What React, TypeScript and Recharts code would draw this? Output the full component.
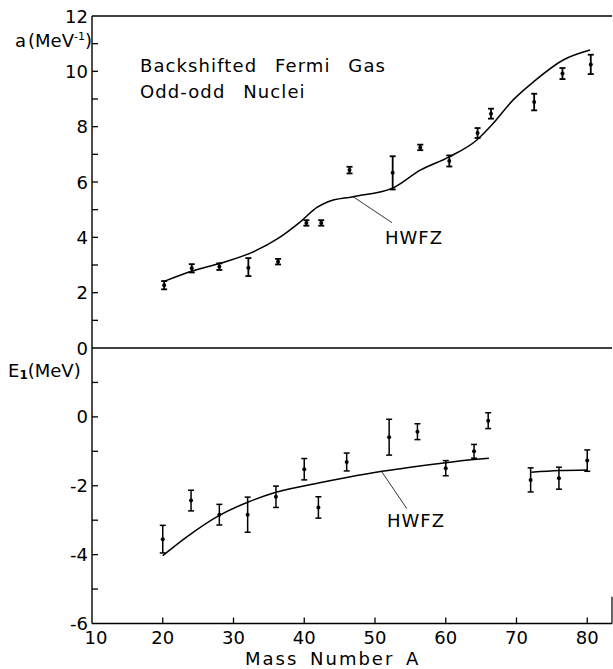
import React from 'react';
import { ComposedChart, Line, Scatter, ErrorBar, XAxis, YAxis, ReferenceLine } from 'recharts';

const FONT = '"DejaVu Sans", sans-serif';

// ---- Top panel: level density parameter a (MeV^-1)
const massTop = [20.2, 24.1, 28.0, 32.1, 36.3, 40.3, 42.4, 46.4, 52.5, 56.4, 60.5, 64.5, 66.4, 72.5, 76.5, 80.5];
const aValues = [2.27, 2.88, 2.94, 2.9, 3.12, 4.52, 4.52, 6.43, 6.33, 7.25, 6.76, 7.77, 8.47, 8.89, 9.92, 10.25];
const aErrLow = [0.15, 0.15, 0.12, 0.3, 0.1, 0.1, 0.1, 0.12, 0.6, 0.1, 0.2, 0.18, 0.18, 0.3, 0.2, 0.35];
const aErrHigh = [0.15, 0.15, 0.12, 0.35, 0.1, 0.1, 0.1, 0.12, 0.6, 0.1, 0.2, 0.18, 0.18, 0.3, 0.2, 0.35];

const curveTopMass = [20.1, 24.3, 28.1, 32.3, 36.3, 39.4, 41.8, 43.2, 46.9, 52.4, 56.4, 60.5, 64.4, 66.5, 69.5, 72.4, 76.6, 80.4];
const curveTopA = [2.4, 2.79, 3.06, 3.42, 3.96, 4.55, 5.08, 5.27, 5.47, 5.77, 6.43, 6.91, 7.52, 8.06, 8.96, 9.62, 10.41, 10.77];

// ---- Bottom panel: backshift E1 (MeV)
const massBottom = [20, 24, 28, 32, 36, 40, 42, 46, 52, 56, 60, 64, 66, 72, 76, 80];
const e1Values = [-3.55, -2.43, -2.84, -2.84, -2.32, -1.52, -2.63, -1.31, -0.59, -0.43, -1.49, -1.0, -0.11, -1.83, -1.78, -1.27];
const e1Err = [0.4, 0.3, 0.3, 0.51, 0.31, 0.31, 0.31, 0.26, 0.52, 0.23, 0.22, 0.2, 0.23, 0.35, 0.32, 0.31];

const curveBot1Mass = [20, 23.5, 28, 32, 36, 42, 46, 51, 55, 60, 64, 66.1];
const curveBot1E = [-4.03, -3.47, -2.86, -2.48, -2.19, -1.92, -1.76, -1.58, -1.46, -1.33, -1.24, -1.2];
const curveBot2Mass = [72.1, 76, 80];
const curveBot2E = [-1.61, -1.56, -1.54];

// ---- Axes
const xDomain = [10, 83.5];
const xTicks = [10, 20, 30, 40, 50, 60, 70, 80];
const aTicks = [0, 1, 2, 3, 4, 5, 6, 7, 8, 9, 10, 11, 12];
const aLabels = ['0', '', '2', '', '4', '', '6', '', '8', '', '10', '', '12'];
const eTicks = [-6, -5, -4, -3, -2, -1, 0, 1, 2];
const eLabels = ['-6', '', '-4', '', '-2', '', '0', '', ''];

const topPoints = massTop.map((A, i) => ({ A, v: aValues[i], err: [aErrLow[i], aErrHigh[i]] }));
const topCurve = curveTopMass.map((A, i) => ({ A, v: curveTopA[i] }));
const botPoints = massBottom.map((A, i) => ({ A, v: e1Values[i], err: [e1Err[i], e1Err[i]] }));
const botCurve1 = curveBot1Mass.map((A, i) => ({ A, v: curveBot1E[i] }));
const botCurve2 = curveBot2Mass.map((A, i) => ({ A, v: curveBot2E[i] }));

const makeYTick = (ticks: number[], labels: string[], skipLineAt: number[]) => (props: any) => {
  const { x, y, payload } = props;
  const idx = ticks.indexOf(payload.value);
  const label = idx >= 0 ? labels[idx] : '';
  const showLine = !skipLineAt.includes(payload.value);
  return (
    <g>
      {showLine && <line x1={x} x2={x + 6} y1={y} y2={y} stroke="#000" strokeWidth={1.3} />}
      {label && (
        <text x={x - 4} y={y + 6.5} textAnchor="end" fontFamily={FONT} fontSize={18} fill="#000">
          {label}
        </text>
      )}
    </g>
  );
};

const XTick = (props: any) => {
  const { x, y, payload } = props;
  return (
    <g>
      {payload.value !== 10 && <line x1={x} x2={x} y1={y} y2={y - 6} stroke="#000" strokeWidth={1.3} />}
      <text x={x + (payload.value === 10 ? 4 : 0)} y={y + 20.5} textAnchor="middle" fontFamily={FONT} fontSize={18} fill="#000">
        {payload.value}
      </text>
    </g>
  );
};

const Dot = (p: any) => <circle cx={p.cx} cy={p.cy} r={2} fill="#000" />;

export default function App() {
  return (
    <div style={{ position: 'absolute', left: 0, top: 0, width: 613, height: 669, background: '#fff', overflow: 'hidden' }}>
      <div style={{ position: 'absolute', left: 0, top: 0 }}>
        <ComposedChart width={613} height={362} margin={{ top: 16, right: 1, bottom: 14, left: 0 }}>
          <XAxis type="number" dataKey="A" domain={xDomain} hide allowDataOverflow />
          <YAxis
            type="number"
            dataKey="v"
            domain={[0, 12]}
            ticks={aTicks}
            interval={0}
            width={92}
            tickSize={0}
            tickMargin={0}
            axisLine={{ stroke: '#000', strokeWidth: 1.4 }}
            tickLine={false}
            tick={makeYTick(aTicks, aLabels, [0, 12])}
          />
          <ReferenceLine y={12} stroke="#000" strokeWidth={1.4} />
          <ReferenceLine y={0} stroke="#000" strokeWidth={1.4} />
          <ReferenceLine
            segment={[{ x: 46.9, y: 5.47 }, { x: 52.4, y: 4.53 }]}
            stroke="#000"
            strokeWidth={0.8}
          />
          <Line data={topCurve} dataKey="v" type="monotone" stroke="#000" strokeWidth={1.5} dot={false} isAnimationActive={false} />
          <Scatter data={topPoints} dataKey="v" shape={Dot} isAnimationActive={false}>
            <ErrorBar dataKey="err" direction="y" width={3} stroke="#000" strokeWidth={1.8} isAnimationActive={false} />
          </Scatter>
        </ComposedChart>
      </div>
      <div style={{ position: 'absolute', left: 0, top: 340 }}>
        <ComposedChart width={613} height={329} margin={{ top: 8, right: 1, bottom: 0, left: 0 }}>
          <XAxis
            type="number"
            dataKey="A"
            domain={xDomain}
            ticks={xTicks}
            interval={0}
            height={45.5}
            tickSize={0}
            tickMargin={0}
            allowDataOverflow
            axisLine={{ stroke: '#000', strokeWidth: 1.4 }}
            tickLine={false}
            tick={<XTick />}
          />
          <YAxis
            type="number"
            dataKey="v"
            domain={[-6, 2]}
            ticks={eTicks}
            interval={0}
            width={92}
            tickSize={0}
            tickMargin={0}
            axisLine={{ stroke: '#000', strokeWidth: 1.4 }}
            tickLine={false}
            tick={makeYTick(eTicks, eLabels, [2, -6])}
          />
          <ReferenceLine
            segment={[{ x: 83.5, y: -6 }, { x: 83.5, y: -5.22 }]}
            stroke="#000"
            strokeWidth={1.2}
            ifOverflow="visible"
          />
          <ReferenceLine
            segment={[{ x: 50.95, y: -1.59 }, { x: 54.48, y: -2.66 }]}
            stroke="#000"
            strokeWidth={0.8}
          />
          <Line data={botCurve1} dataKey="v" type="monotone" stroke="#000" strokeWidth={1.5} dot={false} isAnimationActive={false} />
          <Line data={botCurve2} dataKey="v" type="monotone" stroke="#000" strokeWidth={1.5} dot={false} isAnimationActive={false} />
          <Scatter data={botPoints} dataKey="v" shape={Dot} isAnimationActive={false}>
            <ErrorBar dataKey="err" direction="y" width={3} stroke="#000" strokeWidth={1.5} isAnimationActive={false} />
          </Scatter>
        </ComposedChart>
      </div>
      <svg width={613} height={669} style={{ position: 'absolute', left: 0, top: 0, pointerEvents: 'none' }}>
        <g fontFamily={FONT} fontSize={18} fill="#000">
          <text x={15} y={46.5}>
            a<tspan dx={2}>(MeV</tspan>
            <tspan dy={-7} fontSize={11}>-1</tspan>
            <tspan dy={7}>)</tspan>
          </text>
          <text x={8} y={376.5}>
            E<tspan dy={2} fontSize={12} fontWeight="bold">1</tspan>
            <tspan dy={-2}>(MeV)</tspan>
          </text>
          <text x={140} y={71.7} letterSpacing={1.1} wordSpacing={11}>Backshifted Fermi Gas</text>
          <text x={140} y={98.3} letterSpacing={1.1} wordSpacing={11}>Odd-odd Nuclei</text>
          <text x={385} y={244} letterSpacing={1}>HWFZ</text>
          <text x={387} y={526.5} letterSpacing={1}>HWFZ</text>
          <text x={245} y={665} letterSpacing={2} wordSpacing={4}>Mass Number A</text>
        </g>
      </svg>
    </div>
  );
}
